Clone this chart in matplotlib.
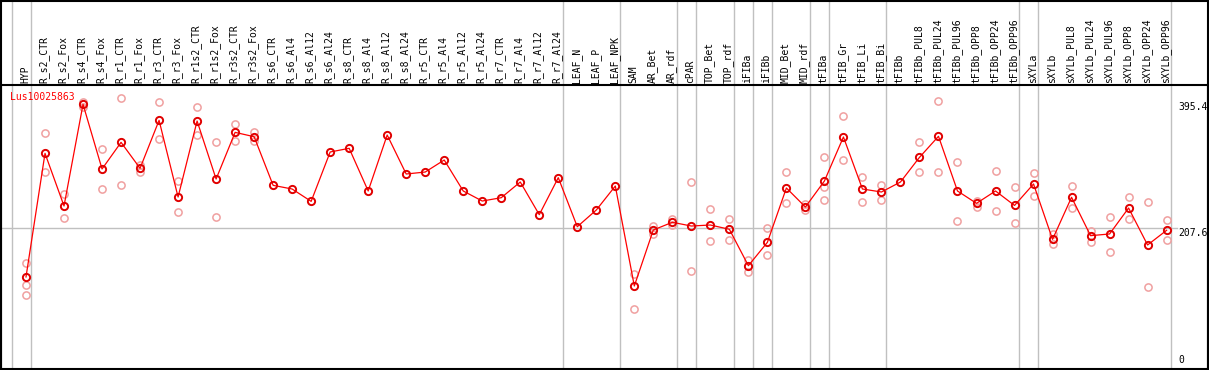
import numpy as np
import matplotlib
matplotlib.use('Agg')
import matplotlib.pyplot as plt
from matplotlib.patches import Rectangle
import matplotlib.transforms as mtransforms

gene = 'Lus10025863'

samples = ['HYP', 'R_s2_CTR', 'R_s2_Fox', 'R_s4_CTR', 'R_s4_Fox', 'R_r1_CTR', 'R_r1_Fox',
           'R_r3_CTR', 'R_r3_Fox', 'R_r1s2_CTR', 'R_r1s2_Fox', 'R_r3s2_CTR', 'R_r3s2_Fox',
           'R_s6_CTR', 'R_s6_Al4', 'R_s6_Al12', 'R_s6_Al24', 'R_s8_CTR', 'R_s8_Al4',
           'R_s8_Al12', 'R_s8_Al24', 'R_r5_CTR', 'R_r5_Al4', 'R_r5_Al12', 'R_r5_Al24',
           'R_r7_CTR', 'R_r7_Al4', 'R_r7_Al12', 'R_r7_Al24', 'LEAF_N', 'LEAF_P', 'LEAF_NPK',
           'SAM', 'AR_Bet', 'AR_rdf', 'cPAR', 'TOP_Bet', 'TOP_rdf', 'iFIBa', 'iFIBb',
           'MID_Bet', 'MID_rdf', 'tFIBa', 'tFIB_Gr', 'tFIB_Li', 'tFIB_Bi', 'tFIBb',
           'tFIBb_PUL8', 'tFIBb_PUL24', 'tFIBb_PUL96', 'tFIBb_OPP8', 'tFIBb_OPP24',
           'tFIBb_OPP96', 'sXYLa', 'sXYLb', 'sXYLb_PUL8', 'sXYLb_PUL24', 'sXYLb_PUL96',
           'sXYLb_OPP8', 'sXYLb_OPP24', 'sXYLb_OPP96']

# mean expression per sample (red line)
mean_expr = [135.5, 317.5, 240, 389.7, 294.5, 333.7, 295.5, 366.1, 253.2, 365.1, 279.7,
             348.4, 342, 270.4, 265, 246.8, 319.5, 324.9, 262.1, 344.5, 287.1, 290, 307.7,
             262.1, 247.3, 252.2, 275.3, 227.2, 281.7, 209.5, 234.1, 269.4, 122.2, 204.7,
             216, 210.5, 212, 205.7, 152.1, 186.5, 266.5, 238.5, 276.8, 341.6, 265, 260.6,
             275.3, 311.6, 342.6, 262.1, 243.9, 262.1, 240.8, 272.4, 190.9, 252.8, 196.3,
             198.8, 237, 182.6, 204.2]

# replicate values (pink circles)
replicates = [[155.6, 123.2, 108.5], [347, 289.4], [257.2, 222.3], [393.6, 386.2],
              [323.4, 265], [398.5, 270.4], [300.4, 290.5], [392.5, 338], [276.8, 230.7],
              [385.2, 344], [333.7, 223.8], [360.7, 336.1], [349.4, 335.7],
              [], [], [], [], [], [], [], [], [], [], [], [], [], [], [], [], [], [], [],
              [139.4, 88.3], [211, 198.3], [220.8, 211.5], [274.9, 144.3], [236, 188],
              [221.3, 189.5], [160.5, 143.3], [207.6, 167.8], [290, 243.9], [243.4, 233.6],
              [312.1, 267.5, 248.4], [372.5, 307.2], [282.2, 245.4], [270.4, 248.4], [],
              [333.7, 289.4], [395.3, 289.4], [304.3, 217.9], [247.8, 239], [291.5, 232.6],
              [268, 214.5], [288.6, 254.7], [198.8, 183.5], [269, 237.5], [203.7, 187],
              [223.8, 171.8], [252.8, 220.4], [245.4, 120.7], [218.9, 189.5]]

# last sample index of each group (separator lines)
group_ends = [0, 28, 31, 34, 35, 37, 38, 39, 41, 42, 45, 52, 53, 60]

y_ticks = [0, 207.6, 395.4]

W, H = 1209, 370
fig = plt.figure(figsize=(W / 100, H / 100), dpi=100)
# plot area in pixels: x 1..1208, y 85..369
ax = fig.add_axes([1 / W, 1 / H, 1207 / W, 284 / H])

step = 19.01
x0 = 26
ax.set_xlim((1 - x0) / step, (1208 - x0) / step)
ax.set_ylim(0, 284 * 1.4723)
ax.set_xticks([])
ax.set_yticks([])
for s in ax.spines.values():
    s.set_color('black')
    s.set_linewidth(1.5)

mono = 'DejaVu Sans Mono'
x = np.arange(len(samples))

# vertical separators reach up through the label band
top_frac = 369 / 284
off = 4.7 / step
ax.axvline(-1 + off, ymin=0, ymax=top_frac, color='#c0c0c0', lw=1, clip_on=False, zorder=1)
for g in group_ends:
    ax.axvline(g + off, ymin=0, ymax=top_frac, color='#c0c0c0', lw=1, clip_on=False, zorder=1)

ax.plot([ax.get_xlim()[0], (1177 - x0) / step], [y_ticks[1]] * 2, color='#c0c0c0', lw=1, zorder=1)

# replicates
for i, reps in enumerate(replicates):
    if reps:
        ax.plot([i] * len(reps), reps, 'o', ms=5.2, mfc='none', mec='#f0a0a0', mew=1.1, zorder=2)

ax.plot(x, mean_expr, '-', color='red', lw=0.9, zorder=3)
ax.plot(x, mean_expr, 'o', ms=5.2, mfc='none', mec='#e00000', mew=1.4, zorder=4)

# sample labels above the plot
trans = mtransforms.blended_transform_factory(ax.transData, ax.transAxes)
for i, name in enumerate(samples):
    ax.text(i - 0.05, 1 + 2 / 284, name, rotation=90, ha='center', va='bottom',
            family=mono, fontsize=7, transform=trans)

ax.text((10 - x0) / step, 400.5, gene, color='red', family=mono, fontsize=7,
        ha='left', va='center')

xr = (1178 - x0) / step
ax.annotate('%.1f' % y_ticks[2], (xr, y_ticks[2]), xytext=(0, -2), textcoords='offset pixels',
            family=mono, fontsize=7, ha='left', va='top')
ax.annotate('%.1f' % y_ticks[1], (xr, y_ticks[1]), xytext=(0, 0), textcoords='offset pixels',
            family=mono, fontsize=7, ha='left', va='top')
ax.annotate('%d' % y_ticks[0], (xr, y_ticks[0]), xytext=(0, 4), textcoords='offset pixels',
            family=mono, fontsize=7, ha='left', va='bottom')

# outer frame around labels and plot
fig.patches.append(Rectangle((0.5 / W, 0.5 / H), (W - 1.5) / W, (H - 1.5) / H, fill=False,
                             edgecolor='black', lw=1.5, transform=fig.transFigure))

fig.savefig('out.png', dpi=100)
